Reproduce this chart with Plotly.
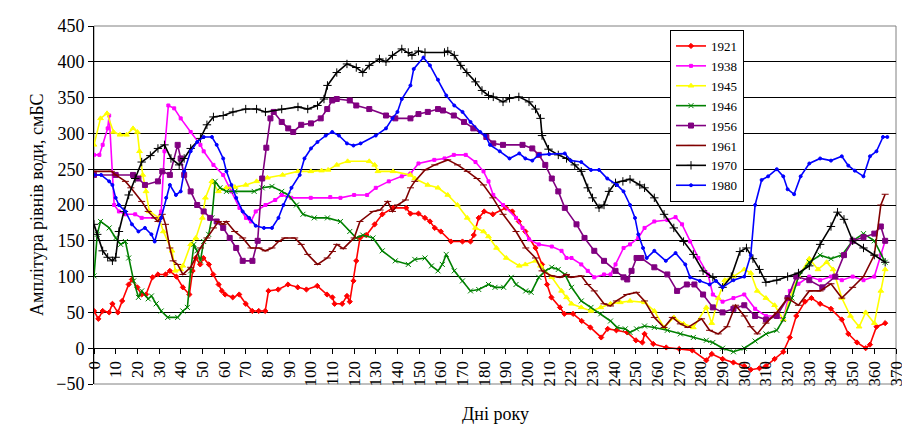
import plotly.graph_objects as go

# ---------------- data (day of year, amplitude cm BS) ----------------
d1921 = [0,2,4,7,8.5,11,13,16,17.5,20,22,24,27,29.5,33,35,38,41,44,45.5,47,49,50.5,53,55,57.5,59,60.5,64,67,70,73,76,79,80.5,85,89.5,94,98,103,107.5,110,111,114.5,116.7,118,119.7,121,122.7,125.7,129.5,133,138,144,146,149.7,152.7,155,157.2,160,164.7,170,173.7,175.2,177.5,180,184,190,193,196,199,203.7,206.7,209,211,215,217,221,225,229,234,237,241,246,250,253,254,258,264,270,276,282.5,285,290,295,300,303,307,310,314,318,321,324,328,331,335,340,345,348,352,356,358,361,365]
v1921 = [52,41,52,50,62,50,66,89,96,85,75,75,99,103,103,108,100,85,75,108,126,117,126,117,103,89,80,75,71,75,62,52,52,52,80,82,89,85,82,87,75,71,62,62,73,65,94,122,154,158,173,187,196,196,188,188,182,177,168,163,149,149,149,158,182,191,187,196,191,177,163,140,117,89,71,57,48,48,38,29,15,27,25,22,11,8,20,6,1,-1,-3,-17,-8,-15,-20,-25,-30,-28,-25,-15,-5,15,45,65,70,62,55,40,20,8,0,5,30,35]

d1938 = [0,2.5,4,6.3,7,9.3,11.5,14.5,19,22,29.5,31,32.5,34.3,37,40,44.6,49.1,50.6,55.1,59.6,63.4,67.1,70.1,72.4,74.6,79.1,83.6,86.6,91,100,109,113.7,120,126,130,136,142,146,149.7,157,161.7,166,171.5,176,179.7,182,184.2,188.7,194.7,197.7,200.7,205.2,211.2,215.7,218,220.3,224.8,227.8,230.8,235.3,238.3,240.6,244.3,247.3,251.1,254,258.5,264.5,268.3,271.3,275,278.8,283.3,285.5,290,295,300,305,310,315,318,321,325,330,335,340,345,350,355,360,363,365]
v1938 = [270,270,284,307,325,200,191,187,187,182,182,191,275,339,335,321,302,284,275,256,242,219,196,182,177,191,200,207,214,210,210,211,210,214,214,224,233,240,244,258,263,265,270,270,260,247,233,214,200,182,168,152,145,142,136,126,126,117,108,99,103,103,117,140,145,154,168,177,179,183,173,149,126,103,75,65,70,75,55,45,45,40,80,90,100,95,100,95,100,95,100,130,150]

d1945 = [0,3,6,9,12,15,18,20,21,22.5,24,25.5,30,32,36,37.5,40,41,44.6,47,50,51.4,54.4,57.4,61,65,70,75,80,87,94,100,105,108,112,117,127,129.5,131,138,146,148,154,158.7,163.2,167.7,172.2,176,179.7,182,185.7,190.2,196.2,199,203.7,206,211.2,215.7,218,220.3,224.8,229.3,233.8,238.3,242.8,247.3,254,258.5,263,267.5,272,276.5,282.5,285,288,291,295,300,303,306,310,314,318,321,325,330,334,338,341,345,349,353,356,360,363,365]
v1945 = [284,321,328,302,298,298,307,302,275,242,219,191,182,163,136,108,110,115,145,154,182,210,233,219,224,225,228,233,238,242,247,247,248,249,256,261,261,256,247,247,242,237,228,224,214,200,182,168,163,156,140,126,115,117,122,115,99,80,71,62,57,52,57,62,64,66,64,52,29,43,34,29,57,35,70,95,100,110,105,80,70,60,40,70,100,125,110,120,110,70,45,30,50,35,80,110]

d1946 = [0,1.5,3,7,10,12.3,14.5,16,18.3,20.5,22,25,26.5,28.7,31,34,38.6,41,43.1,44.6,46.1,47.5,49.1,50.6,52.9,54.4,55.9,58.1,61.1,65,73.9,77.6,82.1,86.6,89.6,93.4,96.4,101.6,107.7,113.7,118,121,124,128.7,133,139,145,148,152.7,155.7,158.7,160.7,162.5,166.2,170,173.7,177.5,182,185,189,192.5,194.7,199.2,201.7,205.2,208.2,211.2,214.2,217.2,220.3,224.8,229.3,233.8,238.3,241.3,245.1,247.3,250.3,254,258.5,264.5,270.5,276.5,282.5,285.5,290,295,300,305,310,315,318,322,325,330,335,340,345,350,355,360,365]
v1946 = [101,159,177,168,154,145,149,126,94,71,80,69,73,62,52,43,43,52,57,108,145,136,122,149,159,182,233,224,219,219,219,224,226,219,214,200,187,182,182,177,163,154,158,154,136,122,117,124,126,115,108,117,131,108,94,80,82,89,85,85,99,89,80,78,99,108,113,110,103,85,66,57,48,38,29,27,22,27,31,29,25,20,15,11,8,0,-5,0,10,20,25,40,70,100,120,130,125,130,150,160,150,120]

d1956 = [0,10,18,20.5,23.5,29.5,31.5,35,38.6,40,41.6,44.6,47.6,50.6,53.6,56.6,59.6,62.6,65.6,68.6,73.1,75.5,77.6,79.5,81.4,82.9,86.6,89.6,91.9,95.6,100.1,104.6,107.6,109.9,112,118,121,127,134.7,139,146,149.7,154,158.7,161,166,170.7,175,181,184.2,188.7,197.7,202.2,205.2,208.2,211.2,214.2,217.2,222.6,226.3,230.8,235.3,240.6,244.3,246,248,250.3,252.5,258.5,264.5,269,273.5,277,281,285.5,290,295,300,305,310,315,320,324,330,336,342,346,350,355,360,363,365]
v1956 = [242,242,242,237,228,233,247,242,284,265,242,219,200,191,182,177,168,154,140,122,122,150,237,280,321,330,316,307,302,312,314,321,334,346,348,346,339,334,325,321,321,327,330,334,332,325,316,307,295,286,284,284,279,270,256,237,219,196,173,154,136,122,108,99,96,108,126,126,113,103,80,89,89,75,57,50,55,60,45,40,45,70,100,95,85,100,130,150,155,160,170,150]

d1961 = [0,8,10,14.5,17,22,25,28,29.5,31.5,33,35,36.5,38.6,41,44.6,49.1,52.1,55.1,57.4,59.6,61,64.9,68.6,72.4,76.1,79,82.1,85.1,88,92.6,95.6,98.6,103.1,107.6,110,112,115,120,122.7,128.7,132,135.5,137.7,140,143.7,146,148,152.7,157.2,163.2,167.7,172.2,176.7,179.7,184,188.7,194.7,199.2,203.7,206.7,211.2,215,218,220,224.8,227.8,230.8,235.3,238.3,241,245.8,250.3,254,258.5,263,266.8,270.5,274,280.3,284,288,292,296,300,303,306,310,315,320,325,330,335,340,345,350,355,360,363,365]
v1961 = [247,247,242,233,224,205,191,182,177,187,173,140,122,117,103,113,140,154,168,177,173,177,163,154,140,140,136,140,149,154,154,145,131,117,126,135,145,139,154,177,191,193,205,191,200,207,224,233,249,256,263,256,247,237,228,210,187,163,140,126,108,101,99,103,99,101,89,80,62,59,66,75,78,66,43,29,43,34,29,41,25,20,30,60,45,30,20,35,50,70,60,80,80,90,70,85,100,130,200,215]

d1970 = [0,1.5,4,6.3,8.5,10,11.5,13.8,16,19,22,26,29.5,32.5,35.5,39.3,41.6,44.6,49.1,52.1,55.1,59.6,64.1,70,75,79.1,86.6,94.1,98.6,103.1,106.1,107.7,112,116.7,121,124,127,131.7,134.7,137.7,142,145,146.7,149.7,152.7,161.7,163.2,166.2,169.2,172,176,179,182,184.2,188.7,191.7,196,200.7,203.7,206,206.7,209.7,214.2,218,221.8,224.8,227.8,230,233,235.3,237.6,240.6,244,247.3,251.8,254,258.5,263,267.5,272,276.5,281,285.5,290,294,298,301,304,307,310,315,320,325,330,335,340,343,346,350,355,360,365]
v1970 = [173,159,136,127,122,127,163,191,214,237,260,269,279,284,265,256,265,279,293,312,323,325,330,334,334,330,334,337,334,339,348,367,385,397,392,385,395,404,400,409,418,413,409,415,413,413,415,409,395,385,372,360,353,351,344,349,351,344,334,321,297,278,270,265,256,247,224,210,196,200,219,231,233,236,228,224,210,187,168,149,131,108,99,85,100,135,140,125,110,92,95,100,105,115,145,170,190,180,150,140,130,120]

d1980 = [0,3.3,7,8.5,10,11.5,14.5,17.5,20.5,23.5,26.5,28,31,33.3,35,37.8,40,41.6,44.6,47.6,50.6,54.4,56.6,59.6,61.1,63.4,65.6,68.6,71.6,74.6,78.4,82.1,85.1,87.4,91.1,94.9,97.1,100.1,103.1,106.9,109.9,113,116.7,119.7,123,130,134.7,137.7,140,142,146,147.5,152,155,158.7,162.5,166.2,170,173.7,178.2,180.5,182.7,187.2,191.7,196.2,199,202.2,205.2,210,217.2,220,224.8,229.3,233,236.8,241.3,244.3,247.3,249.6,251.1,253.3,255,258.5,263.8,268.3,272.8,275,279.5,284,287,290,295,300,303,305,308,311,315,318,320,323,326,330,335,340,345,348,351,355,358,361,364,366]
v1980 = [242,242,233,228,210,200,191,173,163,168,159,149,182,210,228,214,219,247,275,288,295,295,284,265,247,228,210,191,182,171,168,168,182,200,224,242,265,279,288,297,302,297,286,283,286,297,307,321,330,348,367,390,406,395,375,353,339,330,316,302,297,284,275,265,272,265,262,270,271,272,262,260,249,249,237,228,219,200,182,159,140,126,136,122,133,117,99,94,89,94,85,95,100,130,200,235,240,250,240,222,215,240,258,265,262,268,255,248,240,268,275,295,295]

years = ["1921", "1938", "1945", "1946", "1956", "1961", "1970", "1980"]
xs = [d1921, d1938, d1945, d1946, d1956, d1961, d1970, d1980]
ys = [v1921, v1938, v1945, v1946, v1956, v1961, v1970, v1980]

x_ticks = list(range(0, 371, 10))
y_ticks = list(range(-50, 451, 50))

# ---------------- styles ----------------
colors = ["#FF0000", "#FF00FF", "#FFFF00", "#008000", "#800080", "#800000", "#000000", "#0000FF"]
symbols = ["diamond", "square", "triangle-up", "x-thin", "square", "line-ew", "cross-thin", "circle"]
msizes = [4, 3, 5, 5, 5, 5, 6, 3]

fig = go.Figure()
for name, x, y, c, s, ms in zip(years, xs, ys, colors, symbols, msizes):
    fig.add_trace(go.Scatter(
        x=x, y=y, name=name, mode="lines+markers",
        line=dict(color=c, width=1.6),
        marker=dict(symbol=s, size=ms, color=c, line=dict(color=c, width=1)),
    ))

W, H = 910, 425
L, R, T, B = 86, 22, 18, 49
PW, PH = W - L - R, H - T - B

fig.update_layout(
    width=W, height=H,
    margin=dict(l=L, r=R, t=T, b=B, pad=0),
    plot_bgcolor="white", paper_bgcolor="white",
    font=dict(family="Liberation Serif", color="black", size=16),
    showlegend=True,
    legend=dict(
        x=(662 - L) / PW, y=(H - B - 22) / PH,
        xanchor="left", yanchor="top",
        bgcolor="white", bordercolor="black", borderwidth=1,
        font=dict(family="Liberation Serif", size=13, color="black"),
        itemwidth=30, tracegroupgap=0,
    ),
    xaxis=dict(
        range=[0, 370], tickvals=x_ticks, ticktext=[str(t) for t in x_ticks],
        tickangle=-90, ticks="outside", ticklen=5, tickcolor="black",
        showline=True, linecolor="black", linewidth=1,
        showgrid=False, zeroline=False, automargin=False,
        ticklabeloverflow="allow",
        anchor="free", position=0.1,
        tickfont=dict(family="Liberation Serif", size=17, color="black"),
    ),
    yaxis=dict(
        range=[-50, 450], tickvals=y_ticks,
        ticks="outside", ticklen=5, tickcolor="black",
        showline=True, linecolor="black", linewidth=1,
        showgrid=True, gridcolor="black", gridwidth=1, zeroline=False,
        automargin=False,
        tickfont=dict(family="Liberation Serif", size=18, color="black"),
    ),
    shapes=[dict(type="rect", xref="paper", yref="paper", x0=0, x1=1, y0=0, y1=1,
                 line=dict(color="#808080", width=1), layer="below")],
    annotations=[
        dict(text="Амплітура рівнів води, смБС", xref="paper", yref="paper",
             x=(17 - L) / PW, y=0.5, textangle=-90, showarrow=False,
             font=dict(family="Liberation Serif", size=18, color="black")),
        dict(text="Дні року", xref="paper", yref="paper",
             x=0.5, y=(H - B - 418) / PH, showarrow=False,
             font=dict(family="Liberation Serif", size=18, color="black")),
    ],
)

fig.write_html("out.html")
